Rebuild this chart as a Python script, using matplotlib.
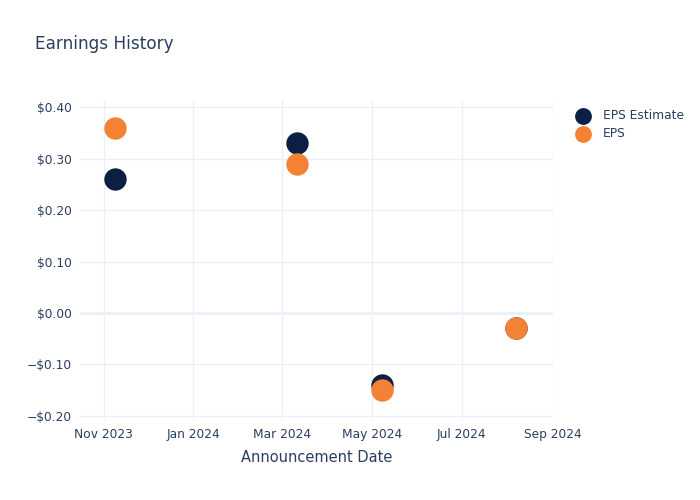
import numpy as np
import matplotlib.pyplot as plt
import matplotlib.dates as mdates
from matplotlib.ticker import FuncFormatter
from datetime import datetime

# data
dates = [datetime(2023, 11, 9), datetime(2024, 3, 11), datetime(2024, 5, 8), datetime(2024, 8, 7)]
eps_estimate = [0.26, 0.33, -0.14, -0.03]
eps_actual = [0.36, 0.29, -0.15, -0.03]

txt = '#2a3f5f'
grid = '#ebf0f8'

fig = plt.figure(figsize=(7, 5), dpi=100)
ax = fig.add_axes([80/700, 80/500, (553-80)/700, 320/500])

ax.scatter(dates, eps_estimate, s=260, color='#0c1f45', label='EPS Estimate', zorder=3, linewidths=0)
ax.scatter(dates, eps_actual, s=260, color='#f58134', label='EPS', zorder=4, linewidths=0)

ax.set_xlim(datetime(2023, 10, 16), datetime(2024, 9, 1))
ax.set_ylim(-0.208, 0.414)
ax.xaxis.set_major_locator(mdates.MonthLocator(bymonth=[1, 3, 5, 7, 9, 11]))
ax.xaxis.set_major_formatter(mdates.DateFormatter('%b %Y'))
ax.set_yticks(np.arange(-0.2, 0.41, 0.1))
ax.yaxis.set_major_formatter(FuncFormatter(lambda v, p: ('\u2212$%.2f' % abs(v)) if v < -1e-9 else '$%.2f' % abs(v)))

ax.grid(True, color=grid, linewidth=1, zorder=0)
ax.axhline(0, color=grid, linewidth=2, zorder=1)
for s in ax.spines.values():
    s.set_visible(False)
ax.tick_params(length=0, colors=txt, labelsize=8.8, pad=6)
ax.set_axisbelow(True)

ax.set_xlabel('Announcement Date', color=txt, fontsize=10.5, labelpad=6)
fig.text(35/700, 1 - 44/500, 'Earnings History', color=txt, fontsize=12.2, va='center')

leg = ax.legend(loc='upper left', bbox_to_anchor=(1.028, 0.988), frameon=False,
                fontsize=8.8, labelcolor=txt, handletextpad=0.6, markerscale=0.75,
                borderaxespad=0.0, labelspacing=0.45)

fig.savefig('out.png', dpi=100)
